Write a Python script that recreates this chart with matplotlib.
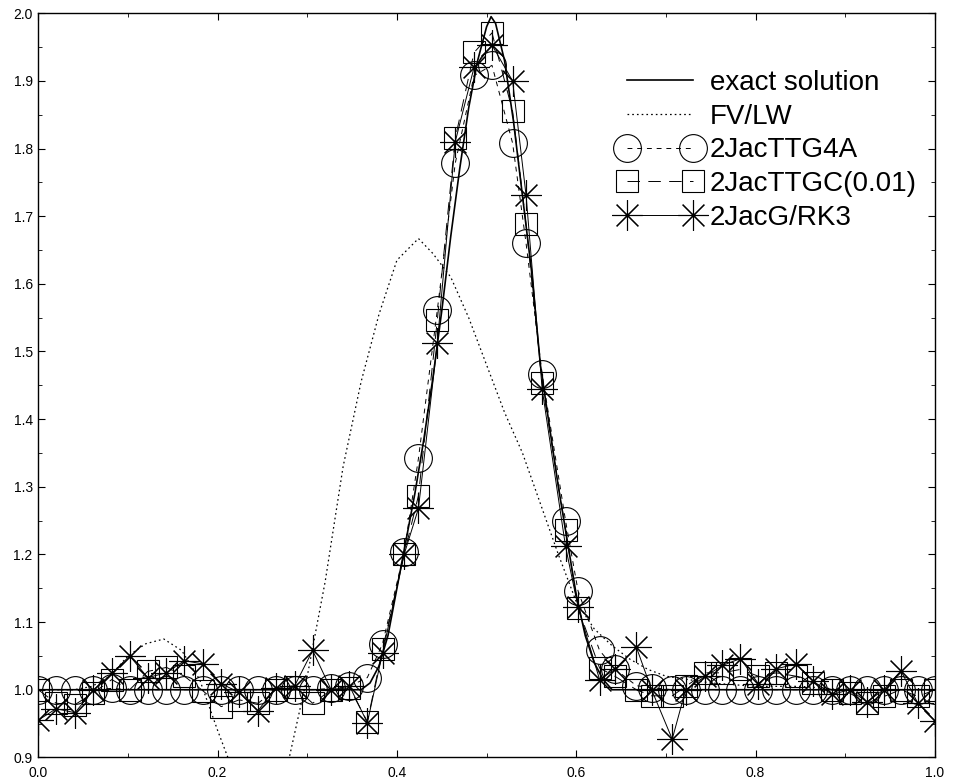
import numpy as np
import matplotlib
matplotlib.use("Agg")
import matplotlib.pyplot as plt
from matplotlib.ticker import MultipleLocator, FormatStrFormatter

plt.rcParams['font.family'] = ['Liberation Sans', 'DejaVu Sans']
plt.rcParams['lines.scale_dashes'] = False

# mesh nodes shared by the three 2Jac schemes
x_nodes = [0.000, 0.020, 0.041, 0.061, 0.082, 0.102, 0.122, 0.143, 0.163, 0.184,
           0.204, 0.224, 0.245, 0.265, 0.286, 0.306, 0.327, 0.347, 0.367, 0.384,
           0.408, 0.424, 0.445, 0.465, 0.486, 0.506, 0.529, 0.544, 0.562, 0.588,
           0.602, 0.626, 0.643, 0.667, 0.684, 0.707, 0.722, 0.744, 0.763, 0.783,
           0.803, 0.823, 0.845, 0.864, 0.885, 0.905, 0.924, 0.943, 0.962, 0.981,
           1.000]

ttg4a = [1.000, 1.000, 1.000, 1.000, 1.002, 1.000, 1.000, 1.000, 1.000, 1.000,
         1.000, 1.000, 1.000, 1.000, 1.000, 1.000, 1.002, 1.005, 1.018, 1.068,
         1.203, 1.342, 1.561, 1.778, 1.908, 1.923, 1.808, 1.660, 1.466, 1.250,
         1.146, 1.058, 1.031, 1.006, 1.003, 1.000, 1.000, 1.000, 1.000, 1.000,
         1.000, 1.000, 1.000, 1.000, 1.000, 1.000, 1.000, 1.000, 1.000, 1.000,
         1.000]

ttgc = [1.000, 0.980, 0.978, 0.995, 1.015, 1.000, 1.027, 1.033, 1.020, 0.998,
        0.975, 0.985, 0.980, 1.000, 1.004, 0.980, 1.000, 1.003, 0.953, 1.060,
        1.200, 1.287, 1.546, 1.815, 1.942, 1.971, 1.855, 1.688, 1.453, 1.236,
        1.121, 1.032, 1.020, 1.000, 0.991, 0.991, 1.005, 1.025, 1.025, 1.030,
        1.020, 1.025, 1.020, 1.010, 1.000, 0.995, 0.980, 0.990, 1.000, 0.990,
        1.000]

rk3 = [0.955, 0.972, 0.966, 0.999, 1.024, 1.050, 1.018, 1.025, 1.043, 1.038,
       1.009, 0.996, 0.969, 1.003, 1.006, 1.058, 0.999, 1.006, 0.951, 1.055,
       1.200, 1.268, 1.512, 1.810, 1.920, 1.953, 1.900, 1.731, 1.444, 1.212,
       1.122, 1.015, 1.030, 1.063, 1.000, 0.927, 1.000, 1.020, 1.036, 1.046,
       1.009, 1.031, 1.038, 1.013, 0.993, 1.000, 0.982, 1.000, 1.028, 0.980,
       0.954]

# exact solution
x_exact = [0.0, 0.36, 0.37, 0.38, 0.39, 0.40, 0.41, 0.42, 0.43, 0.44, 0.45, 0.46,
           0.47, 0.48, 0.49, 0.50, 0.505, 0.51, 0.52, 0.53, 0.54, 0.55, 0.56, 0.57,
           0.58, 0.59, 0.60, 0.61, 0.62, 0.63, 0.64, 1.0]
y_exact = [1.0, 1.0, 1.01, 1.035, 1.08, 1.15, 1.22, 1.29, 1.37, 1.46, 1.56, 1.67,
           1.77, 1.86, 1.93, 1.98, 1.995, 1.985, 1.93, 1.84, 1.73, 1.62, 1.48, 1.39,
           1.30, 1.22, 1.14, 1.08, 1.04, 1.015, 1.0, 1.0]

# FV/LW reference scheme
x_fvlw = [0.00, 0.02, 0.04, 0.06, 0.08, 0.10, 0.12, 0.14, 0.16, 0.18, 0.20, 0.22,
          0.24, 0.26, 0.28, 0.30, 0.32, 0.34, 0.36, 0.38, 0.40, 0.424, 0.44, 0.46,
          0.48, 0.50, 0.52, 0.54, 0.56, 0.58, 0.60, 0.62, 0.64, 0.66, 0.68, 0.70,
          0.75, 0.80, 0.85, 0.90, 0.95, 1.00]
y_fvlw = [1.0, 1.0, 1.0, 1.005, 1.02, 1.05, 1.068, 1.075, 1.058, 1.015, 0.94, 0.87,
          0.84, 0.85, 0.90, 1.02, 1.16, 1.33, 1.455, 1.555, 1.635, 1.667, 1.645, 1.61,
          1.55, 1.48, 1.41, 1.35, 1.275, 1.20, 1.13, 1.09, 1.065, 1.045, 1.03, 1.02,
          1.01, 1.005, 1.005, 1.0, 1.0, 1.0]

fig = plt.figure(figsize=(9.56, 7.8), dpi=100)
ax = fig.add_axes([0.040, 0.029, 0.938, 0.954])

ax.plot(x_exact, y_exact, color='black', lw=1.2, label='exact solution')
ax.plot(x_fvlw, y_fvlw, color='black', lw=0.9, linestyle=(0, (1.2, 2.2)), label='FV/LW')
ax.plot(x_nodes, ttg4a, color='black', lw=0.7, linestyle=(0, (3.5, 3.5)),
        marker='o', ms=20, mfc='none', mec='black', mew=0.8, label='2JacTTG4A')
ax.plot(x_nodes, ttgc, color='black', lw=0.7, linestyle=(0, (9, 6)),
        marker='s', ms=16.5, mfc='none', mec='black', mew=0.8, label='2JacTTGC(0.01)')
ax.plot(x_nodes, rk3, color='black', lw=0.7,
        marker=(8, 2, 0), ms=22, mec='black', mew=0.8, label='2JacG/RK3')

ax.set_xlim(0.0, 1.0)
ax.set_ylim(0.9, 2.0)
ax.xaxis.set_major_locator(MultipleLocator(0.2))
ax.xaxis.set_minor_locator(MultipleLocator(0.1))
ax.yaxis.set_major_locator(MultipleLocator(0.1))
ax.yaxis.set_minor_locator(MultipleLocator(0.05))
ax.xaxis.set_major_formatter(FormatStrFormatter('%.1f'))
ax.yaxis.set_major_formatter(FormatStrFormatter('%.1f'))
ax.tick_params(which='both', direction='in', top=True, right=True, labelsize=10)
ax.tick_params(which='major', length=5, width=0.8)
ax.tick_params(which='minor', length=3, width=0.6)
ax.tick_params(axis='x', pad=6)
ax.tick_params(axis='y', pad=4)
for s in ax.spines.values():
    s.set_linewidth(1.0)

ax.legend(loc='upper left', bbox_to_anchor=(0.647, 0.924), frameon=False,
          fontsize=20, numpoints=2, handlelength=2.97, handletextpad=0.31,
          labelspacing=0.28, borderpad=0.0, borderaxespad=0.0)

fig.savefig('out.png', dpi=100)
